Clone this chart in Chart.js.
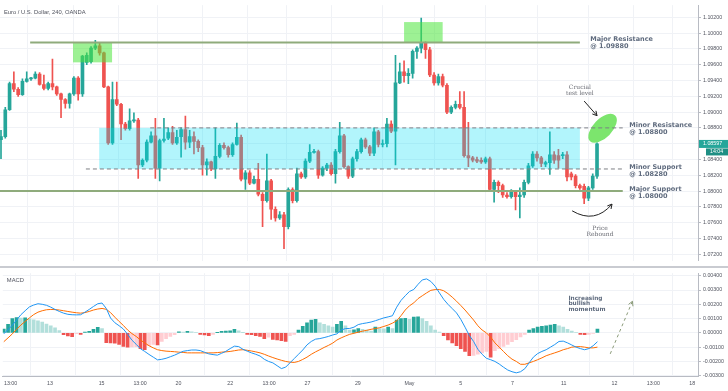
<!DOCTYPE html>
<html>
<head>
<meta charset="utf-8">
<title>EUR/USD 240</title>
<script src="https://cdn.jsdelivr.net/npm/chart.js@4.4.0/dist/chart.umd.min.js"></script>
<style>
  html, body { margin: 0; padding: 0; background: #fff; }
  #wrap { position: relative; width: 728px; height: 391px; overflow: hidden; }
  #priceChart { position: absolute; left: 0; top: 0; }
  #macdChart { position: absolute; left: 0; top: 268px; }
  #sep { position: absolute; left: 0; top: 266px; width: 728px; height: 2px; background: #c9cbd1; }
</style>
</head>
<body>
<div id="wrap">
  <canvas id="priceChart" width="728" height="266"></canvas>
  <div id="sep"></div>
  <canvas id="macdChart" width="728" height="123"></canvas>
</div>
<script>
// -----------------------------
// Data (4h candles)
// -----------------------------
const opens = [
  1.0865, 1.0869, 1.0903, 1.0936, 1.0929, 1.0922, 1.0939, 1.0942, 1.0943, 1.0948,
  1.0935, 1.0930, 1.0936, 1.0932, 1.0923, 1.0916, 1.0911, 1.0923, 1.0943, 1.0923,
  1.0963, 1.0964, 1.0981, 1.0984, 1.0975, 1.0932, 1.0861, 1.0916, 1.0910, 1.0885,
  1.0879, 1.0889, 1.0890, 1.0833, 1.0839, 1.0862, 1.0870, 1.0829, 1.0864, 1.0867,
  1.0874, 1.0861, 1.0869, 1.0878, 1.0862, 1.0869, 1.0863, 1.0855, 1.0833, 1.0837,
  1.0828, 1.0844, 1.0858, 1.0855, 1.0846, 1.0859, 1.0868, 1.0815, 1.0823, 1.0810,
  1.0815, 1.0796, 1.0788, 1.0813, 1.0777, 1.0766, 1.0770, 1.0755, 1.0802, 1.0788,
  1.0822, 1.0818, 1.0838, 1.0849, 1.0850, 1.0820, 1.0829, 1.0833, 1.0822, 1.0850,
  1.0870, 1.0831, 1.0819, 1.0841, 1.0850, 1.0865, 1.0856, 1.0848, 1.0875, 1.0859,
  1.0860, 1.0885, 1.0876, 1.0937, 1.0951, 1.0946, 1.0949, 1.0977, 1.0981, 1.0987,
  1.0979, 1.0947, 1.0937, 1.0945, 1.0934, 1.0900, 1.0906, 1.0910, 1.0906, 1.0845,
  1.0842, 1.0840, 1.0839, 1.0837, 1.0841, 1.0802, 1.0811, 1.0807, 1.0795, 1.0793,
  1.0799, 1.0793, 1.0795, 1.0811, 1.0832, 1.0847, 1.0842, 1.0834, 1.0836, 1.0846,
  1.0845, 1.0845, 1.0846, 1.0822, 1.0819, 1.0807, 1.0806, 1.0791, 1.0804, 1.0819
]
const highs = [
  1.0877, 1.0906, 1.0938, 1.0951, 1.0931, 1.0942, 1.0951, 1.0944, 1.0951, 1.0950,
  1.0947, 1.0938, 1.0967, 1.0933, 1.0924, 1.0917, 1.0924, 1.0945, 1.0945, 1.0972,
  1.0975, 1.0983, 1.0991, 1.0987, 1.0976, 1.0933, 1.0938, 1.0938, 1.0911, 1.0887,
  1.0904, 1.0899, 1.0892, 1.0841, 1.0865, 1.0875, 1.0892, 1.0866, 1.0892, 1.0880,
  1.0882, 1.0877, 1.0880, 1.0895, 1.0877, 1.0875, 1.0865, 1.0858, 1.0841, 1.0838,
  1.0880, 1.0860, 1.0861, 1.0857, 1.0861, 1.0886, 1.0871, 1.0826, 1.0826, 1.0819,
  1.0835, 1.0798, 1.0847, 1.0815, 1.0780, 1.0774, 1.0773, 1.0804, 1.0804, 1.0829,
  1.0824, 1.0841, 1.0859, 1.0853, 1.0852, 1.0831, 1.0835, 1.0836, 1.0853, 1.0887,
  1.0872, 1.0832, 1.0843, 1.0853, 1.0867, 1.0867, 1.0858, 1.0880, 1.0877, 1.0865,
  1.0892, 1.0889, 1.0972, 1.0962, 1.0965, 1.0955, 1.0979, 1.0983, 1.1019, 1.0989,
  1.0982, 1.0950, 1.0948, 1.0948, 1.0936, 1.0908, 1.0914, 1.0926, 1.0926, 1.0887,
  1.0844, 1.0843, 1.0842, 1.0843, 1.0843, 1.0814, 1.0813, 1.0809, 1.0798, 1.0802,
  1.0800, 1.0804, 1.0814, 1.0835, 1.0850, 1.0850, 1.0844, 1.0838, 1.0875, 1.0850,
  1.0853, 1.0849, 1.0850, 1.0824, 1.0821, 1.0809, 1.0809, 1.0806, 1.0822, 1.0861
]
const lows = [
  1.0841, 1.0867, 1.0902, 1.0926, 1.0920, 1.0921, 1.0938, 1.0940, 1.0942, 1.0934,
  1.0928, 1.0928, 1.0928, 1.0921, 1.0893, 1.0905, 1.0905, 1.0921, 1.0915, 1.0920,
  1.0960, 1.0962, 1.0979, 1.0972, 1.0931, 1.0859, 1.0859, 1.0908, 1.0865, 1.0877,
  1.0877, 1.0887, 1.0816, 1.0831, 1.0837, 1.0861, 1.0816, 1.0813, 1.0862, 1.0865,
  1.0859, 1.0859, 1.0843, 1.0853, 1.0855, 1.0847, 1.0850, 1.0820, 1.0820, 1.0826,
  1.0816, 1.0842, 1.0853, 1.0843, 1.0844, 1.0858, 1.0813, 1.0802, 1.0808, 1.0809,
  1.0794, 1.0755, 1.0786, 1.0764, 1.0762, 1.0764, 1.0727, 1.0752, 1.0785, 1.0786,
  1.0816, 1.0816, 1.0836, 1.0848, 1.0816, 1.0819, 1.0826, 1.0820, 1.0810, 1.0848,
  1.0829, 1.0816, 1.0817, 1.0838, 1.0848, 1.0854, 1.0845, 1.0845, 1.0856, 1.0856,
  1.0856, 1.0874, 1.0833, 1.0936, 1.0938, 1.0936, 1.0943, 1.0968, 1.0975, 1.0968,
  1.0945, 1.0934, 1.0934, 1.0932, 1.0898, 1.0898, 1.0904, 1.0904, 1.0843, 1.0831,
  1.0837, 1.0836, 1.0835, 1.0835, 1.0800, 1.0786, 1.0798, 1.0792, 1.0791, 1.0791,
  1.0776, 1.0766, 1.0792, 1.0809, 1.0830, 1.0838, 1.0831, 1.0831, 1.0821, 1.0835,
  1.0829, 1.0841, 1.0813, 1.0814, 1.0804, 1.0802, 1.0784, 1.0788, 1.0802, 1.0816
]
const closes = [
  1.0869, 1.0903, 1.0936, 1.0929, 1.0922, 1.0939, 1.0942, 1.0943, 1.0948, 1.0935,
  1.0930, 1.0936, 1.0932, 1.0923, 1.0916, 1.0911, 1.0923, 1.0943, 1.0923, 1.0971,
  1.0972, 1.0981, 1.0984, 1.0975, 1.0932, 1.0861, 1.0916, 1.0910, 1.0885, 1.0879,
  1.0889, 1.0890, 1.0833, 1.0839, 1.0862, 1.0870, 1.0829, 1.0864, 1.0866, 1.0874,
  1.0861, 1.0868, 1.0878, 1.0862, 1.0869, 1.0863, 1.0855, 1.0833, 1.0837, 1.0828,
  1.0844, 1.0858, 1.0855, 1.0846, 1.0859, 1.0868, 1.0815, 1.0823, 1.0810, 1.0815,
  1.0796, 1.0788, 1.0813, 1.0777, 1.0766, 1.0770, 1.0755, 1.0802, 1.0788, 1.0822,
  1.0818, 1.0838, 1.0849, 1.0850, 1.0820, 1.0829, 1.0833, 1.0822, 1.0850, 1.0870,
  1.0831, 1.0819, 1.0841, 1.0850, 1.0865, 1.0856, 1.0848, 1.0875, 1.0859, 1.0860,
  1.0885, 1.0876, 1.0937, 1.0951, 1.0946, 1.0949, 1.0977, 1.0981, 1.0987, 1.0979,
  1.0947, 1.0937, 1.0945, 1.0934, 1.0900, 1.0906, 1.0910, 1.0906, 1.0845, 1.0842,
  1.0839, 1.0838, 1.0837, 1.0841, 1.0802, 1.0811, 1.0807, 1.0795, 1.0793, 1.0799,
  1.0793, 1.0795, 1.0811, 1.0832, 1.0847, 1.0842, 1.0835, 1.0836, 1.0846, 1.0839,
  1.0839, 1.0846, 1.0818, 1.0818, 1.0807, 1.0804, 1.0791, 1.0804, 1.0819, 1.08597
]

const macdHist = [
  0.00027, 0.0006, 0.001, 0.00107, 0.00104, 0.00106, 0.00098, 0.00092, 0.00085, 0.00075,
  0.00062, 0.0005, 0.00036, 0.00016, -0.00013, -0.00022, -0.00027, -0.00005, -0.0001, 0.00005,
  0.0001, 0.00025, 0.00038, 0.0003, -0.00069, -0.0007, -0.00072, -0.0008, -0.00095, -0.001,
  -0.00098, -0.00097, -0.0011, -0.00118, -0.0009, -0.0008, -0.00085, -0.0006, -0.0004, -0.00025,
  -0.00012, 0.00007, 0.00005, 0.0001, 0.00008, 0.00004, -0.0001, -0.00015, -0.0002, -0.0001,
  0.00002, 0.0001, 0.00012, 0.00015, 0.00025, 0.00015, 0.00002, -0.0001, -0.00012, -0.0002,
  -0.00025, -0.0004, -0.0003, -0.00045, -0.0005, -0.00055, -0.0006, -0.0002, -0.0001, 0.0002,
  0.00045, 0.0007, 0.0009, 0.00095, 0.0007, 0.0006, 0.0005, 0.0004, 0.0006, 0.0008,
  0.0005, 0.0002, 0.00022, 0.0003, 0.00025, 0.0002, 0.00012, 0.0004, 0.0003, 0.00028,
  0.0004, 0.0003, 0.0009, 0.001, 0.00102, 0.00095, 0.0011, 0.00112, 0.001, 0.0008,
  0.0005, 0.0002, 0.00005, -0.0002, -0.0005, -0.0007, -0.0009, -0.0011, -0.0013, -0.0016,
  -0.00158, -0.0015, -0.0014, -0.0013, -0.0017, -0.00124, -0.0011, -0.00095, -0.0008, -0.00062,
  -0.00047, -0.00029, -0.00011, 0.0002, 0.0003, 0.0004, 0.00045, 0.0005, 0.00055, 0.0006,
  0.0005, 0.0004, 0.00025, 0.00012, 0.00003, -0.0001, -0.00012, -0.0001, -0.00004, 0.00027
]
const macdLine = [
  -0.00007, 0.00023, 0.00053, 0.0009, 0.00127, 0.00155, 0.00182, 0.00195, 0.00204, 0.002,
  0.00193, 0.0018, 0.00164, 0.0015, 0.00138, 0.0013, 0.00127, 0.00126, 0.00127, 0.00145,
  0.00164, 0.00185, 0.00204, 0.00209, 0.00171, 0.00104, 0.00071, 0.0005, 0.00027, -0.0001,
  -0.00051, -0.0008, -0.00111, -0.0013, -0.00151, -0.0017, -0.00189, -0.00185, -0.00178, -0.00167,
  -0.00156, -0.00142, -0.00129, -0.00124, -0.0012, -0.0012, -0.00124, -0.00136, -0.00147, -0.00152,
  -0.00156, -0.00143, -0.00129, -0.0011, -0.00093, -0.00096, -0.00115, -0.00128, -0.0014, -0.0015,
  -0.00162, -0.00185, -0.002, -0.0021, -0.0023, -0.0025, -0.0024, -0.0021, -0.0018, -0.0015,
  -0.0012, -0.00084, -0.0006, -0.00044, -0.0004, -0.00033, -0.00025, -0.00015, -0.00007, 0.0002,
  0.0003, 0.00031, 0.0004, 0.00058, 0.00065, 0.0007, 0.00076, 0.00085, 0.00095, 0.00105,
  0.00112, 0.0012, 0.0018, 0.00227, 0.0026, 0.0029, 0.00304, 0.0034, 0.00371, 0.00378,
  0.0036, 0.00327, 0.0028, 0.00235, 0.002, 0.0017, 0.0014, 0.00095, 0.0004, -0.00018,
  -0.0006, -0.00115, -0.0015, -0.00178, -0.00188, -0.002, -0.00218, -0.0024, -0.0026, -0.00272,
  -0.0028, -0.00272, -0.00251, -0.0021, -0.0017, -0.00145, -0.0013, -0.00118, -0.001, -0.00082,
  -0.0006, -0.00058, -0.0007, -0.00085, -0.001, -0.0011, -0.00118, -0.0011, -0.0009, -0.00062
]
const signalLine = [
  -0.00062, -0.00035, -0.00007, 0.00025, 0.00055, 0.0008, 0.00105, 0.00128, 0.00145, 0.00155,
  0.00162, 0.00164, 0.00163, 0.0016, 0.00155, 0.0015, 0.00145, 0.00141, 0.00138, 0.00142,
  0.0015, 0.0016, 0.00167, 0.00171, 0.00165, 0.00142, 0.0011, 0.0008, 0.00052, 0.0002,
  -0.00005, -0.00025, -0.0005, -0.0007, -0.0009, -0.00105, -0.00118, -0.00124, -0.00128, -0.0013,
  -0.00132, -0.00135, -0.00137, -0.0014, -0.0014, -0.0014, -0.0014, -0.0014, -0.0014, -0.0014,
  -0.00138, -0.00135, -0.00133, -0.0013, -0.00125, -0.0012, -0.00118, -0.00122, -0.00127, -0.00133,
  -0.0014, -0.0015, -0.00162, -0.00173, -0.00183, -0.00192, -0.002, -0.00205, -0.00207, -0.002,
  -0.00186, -0.0017, -0.0015, -0.00133, -0.00118, -0.00102, -0.00088, -0.00072, -0.0005, -0.00035,
  -0.00022, -0.0001, -0.00003, 0.00005, 0.00012, 0.00018, 0.00025, 0.0003, 0.00036, 0.00045,
  0.00055, 0.00068, 0.00085, 0.0012, 0.0016, 0.0019, 0.0021, 0.0024, 0.0026, 0.0028,
  0.00298, 0.00303, 0.00304, 0.00295, 0.00275, 0.0025, 0.00222, 0.00192, 0.0016, 0.00125,
  0.0009, 0.0005, 0.0002, 0.0, -0.0003, -0.0007, -0.001, -0.0013, -0.0016, -0.00184,
  -0.002, -0.0022, -0.0022, -0.0021, -0.002, -0.00188, -0.00175, -0.0016, -0.0015, -0.0014,
  -0.0013, -0.00118, -0.0011, -0.001, -0.00097, -0.00096, -0.001, -0.00105, -0.00105, -0.001
]

const priceTicks = [1.102, 1.1, 1.098, 1.096, 1.094, 1.092, 1.09, 1.088, 1.086, 1.084, 1.082, 1.08, 1.078, 1.076, 1.074, 1.072]
const macdTicks = [0.004, 0.003, 0.002, 0.001, 0, -0.001, -0.002, -0.003]
const dayTickPos = [1.6, 10.8, 22.9, 31.9, 40.9, 53, 62.1, 71.1, 82.9, 95, 107, 119.1, 131.1, 143, 152.1, 161.2]
const dayTickLabels = ["13:00", "13", "15", "13:00", "20", "22", "13:00", "27", "29", "May", "5", "7", "11", "12", "13:00", "18"]

// key levels
const majorRes = 1.0988
const minorRes = 1.0880
const minorSup = 1.0828
const majorSup = 1.0800

// -----------------------------
// Look
// -----------------------------
const UP = "#26a69a"
const DOWN = "#ef5350"
const GRID = "#f0f2f6"
const AXIS = "#b8bbc3"
const TEXT = "#50535e"
const NOTE = "#5f6b7e"
const X_MIN = -0.233
const X_MAX = 162.55

Chart.defaults.font.family = "'Liberation Sans', Arial, sans-serif"
Chart.defaults.color = TEXT

const candleColors = closes.map((c, i) => c >= opens[i] ? UP : DOWN)

const histColors = macdHist.map((v, i) => {
  const prev = i > 0 ? macdHist[i - 1] : 0
  if (v >= 0) return v >= prev ? UP : "#b2dfdb"
  return v < prev ? DOWN : "#ffcdd2"
})

function arrowHead(ctx, x0, y0, x1, y1, size) {
  const a = Math.atan2(y1 - y0, x1 - x0)
  ctx.beginPath()
  ctx.moveTo(x1 - size * Math.cos(a - 0.5), y1 - size * Math.sin(a - 0.5))
  ctx.lineTo(x1, y1)
  ctx.lineTo(x1 - size * Math.cos(a + 0.5), y1 - size * Math.sin(a + 0.5))
  ctx.stroke()
}

function sharedX(showLabels) {
  return {
    type: "linear",
    min: X_MIN,
    max: X_MAX,
    offset: false,
    grid: { color: GRID, drawTicks: false },
    border: { display: showLabels, color: AXIS },
    ticks: {
      display: showLabels,
      padding: 4,
      maxRotation: 0,
      autoSkip: false,
      font: { size: 5.3 },
      callback: (v, i) => dayTickLabels[i]
    },
    afterBuildTicks: s => { s.ticks = dayTickPos.map(v => ({ value: v })) },
    afterFit: s => { s.height = showLabels ? 15 : 0 }
  }
}

function rightY(min, max, ticks) {
  return {
    position: "right",
    min: min,
    max: max,
    grid: { color: GRID, tickLength: 3, tickColor: AXIS },
    border: { color: AXIS },
    ticks: { padding: 2, font: { size: 5.3 }, callback: v => v.toFixed(5) },
    afterBuildTicks: s => { s.ticks = ticks.map(v => ({ value: v })) },
    afterFit: s => { s.width = 30 }
  }
}

// -----------------------------
// Price annotations
// -----------------------------
const priceOverlay = {
  id: "priceOverlay",
  afterDatasetsDraw(chart) {
    const { ctx, scales: { x, y } } = chart
    const px = v => x.getPixelForValue(v)
    const py = v => y.getPixelForValue(v)
    ctx.save()

    // range between minor levels
    ctx.fillStyle = "rgba(0, 222, 245, 0.3)"
    ctx.fillRect(px(22.9), py(minorRes), px(135) - px(22.9), py(minorSup) - py(minorRes))

    // tests of major resistance
    ctx.fillStyle = "rgba(76, 230, 60, 0.55)"
    ctx.fillRect(px(16.8), py(majorRes), px(25.9) - px(16.8), py(1.0963) - py(majorRes))
    ctx.fillRect(px(94), py(1.1014), px(103) - px(94), py(majorRes) - py(1.1014))

    // crucial test ellipse
    ctx.fillStyle = "rgba(80, 220, 60, 0.75)"
    ctx.beginPath()
    ctx.ellipse(px(140.3), py(1.08795), 18, 9.5, -0.8, 0, Math.PI * 2)
    ctx.fill()

    // major levels
    ctx.strokeStyle = "#8fab7c"
    ctx.lineWidth = 2
    ctx.beginPath()
    ctx.moveTo(px(6.8), py(majorRes))
    ctx.lineTo(px(135), py(majorRes))
    ctx.moveTo(px(-1), py(majorSup))
    ctx.lineTo(px(145), py(majorSup))
    ctx.stroke()

    // minor levels
    ctx.strokeStyle = "#7d7f85"
    ctx.lineWidth = 1
    ctx.setLineDash([4, 3])
    ctx.beginPath()
    ctx.moveTo(px(34.8), py(minorRes))
    ctx.lineTo(px(145), py(minorRes))
    ctx.moveTo(px(19.8), py(minorSup))
    ctx.lineTo(px(145), py(minorSup))
    ctx.stroke()
    ctx.setLineDash([])

    // level labels
    ctx.fillStyle = NOTE
    ctx.font = "bold 6.5px 'DejaVu Sans'"
    ctx.textBaseline = "middle"
    ctx.textAlign = "left"
    const label = (title, level, xi, yv) => {
      ctx.fillText(title, px(xi), py(yv))
      ctx.fillText("@ " + level.toFixed(5), px(xi), py(yv) + 7)
    }
    label("Major Resistance", majorRes, 137.4, 1.0992)
    label("Minor Resistance", minorRes, 146.5, 1.08833)
    label("Minor Support", minorSup, 146.5, 1.08301)
    label("Major Support", majorSup, 146.5, 1.08021)

    // notes
    ctx.fillStyle = "#6b6d75"
    ctx.font = "6px 'DejaVu Serif'"
    ctx.textAlign = "center"
    ctx.fillText("Crucial", px(135), py(1.0931))
    ctx.fillText("test level", px(135), py(1.0931) + 6)
    ctx.fillText("Price", px(139.7), py(1.07522))
    ctx.fillText("Rebound", px(139.7), py(1.07522) + 5.5)

    ctx.strokeStyle = "#222"
    ctx.lineWidth = 1
    ctx.beginPath()
    ctx.moveTo(px(136), py(1.0914))
    ctx.lineTo(px(139), py(1.08955))
    ctx.stroke()
    arrowHead(ctx, px(136), py(1.0914), px(139), py(1.08955), 5)

    ctx.beginPath()
    ctx.moveTo(px(133.2), py(1.0775))
    ctx.quadraticCurveTo(px(138.5), py(1.0758), px(142.5), py(1.07835))
    ctx.stroke()
    arrowHead(ctx, px(138.5), py(1.0758), px(142.5), py(1.07835), 5)

    ctx.restore()
  },
  afterDraw(chart) {
    const { ctx, chartArea, scales: { y } } = chart
    ctx.save()
    ctx.fillStyle = TEXT
    ctx.font = "5.8px 'Liberation Sans'"
    ctx.textBaseline = "middle"
    ctx.fillText("Euro / U.S. Dollar, 240, OANDA", chartArea.left + 4, chartArea.top + 7)

    // last price tag
    const last = closes[closes.length - 1]
    const yy = y.getPixelForValue(last)
    ctx.fillStyle = UP
    ctx.fillRect(chartArea.right + 1, yy - 4, 29, 8)
    ctx.fillStyle = "#1f8f84"
    ctx.fillRect(chartArea.right + 8, yy + 4.5, 22, 7)
    ctx.fillStyle = "#fff"
    ctx.font = "5.3px 'Liberation Sans'"
    ctx.fillText(last.toFixed(5), chartArea.right + 5, yy)
    ctx.fillText("14:04", chartArea.right + 12, yy + 8)
    ctx.restore()
  }
}

// -----------------------------
// MACD annotations
// -----------------------------
const macdOverlay = {
  id: "macdOverlay",
  afterDraw(chart) {
    const { ctx, chartArea, scales: { x, y } } = chart
    const px = v => x.getPixelForValue(v)
    const py = v => y.getPixelForValue(v)
    ctx.save()
    ctx.fillStyle = TEXT
    ctx.font = "5.8px 'Liberation Sans'"
    ctx.textBaseline = "middle"
    ctx.fillText("MACD", chartArea.left + 4, chartArea.top + 7.5)

    ctx.fillStyle = NOTE
    ctx.font = "bold 5.8px 'DejaVu Sans'"
    ctx.fillText("Increasing", px(132.2), py(0.00243))
    ctx.fillText("bullish", px(132.2), py(0.00243) + 5.7)
    ctx.fillText("momentum", px(132.2), py(0.00243) + 11.4)

    ctx.strokeStyle = "#8a9a78"
    ctx.lineWidth = 1
    ctx.setLineDash([3, 3])
    ctx.beginPath()
    ctx.moveTo(px(142), py(-0.00147))
    ctx.lineTo(px(147.2), py(0.00221))
    ctx.stroke()
    ctx.setLineDash([])
    arrowHead(ctx, px(142), py(-0.00147), px(147.2), py(0.00221), 5)
    ctx.restore()
  }
}

// -----------------------------
// Charts
// -----------------------------
function renderPrice() {
  new Chart(document.getElementById("priceChart"), {
    type: "bar",
    data: {
      datasets: [
        {
          label: "body",
          data: opens.map((o, i) => ({ x: i, y: [o, closes[i]] })),
          backgroundColor: candleColors,
          barThickness: 3,
          minBarLength: 1,
          grouped: false,
          order: 0
        },
        {
          label: "wick",
          data: lows.map((l, i) => ({ x: i, y: [l, highs[i]] })),
          backgroundColor: candleColors,
          barThickness: 1,
          grouped: false,
          order: 1
        }
      ]
    },
    options: {
      responsive: false,
      animation: false,
      layout: { padding: 0 },
      plugins: { legend: { display: false }, tooltip: { enabled: false } },
      scales: {
        x: sharedX(false),
        y: rightY(1.07117, 1.10354, priceTicks)
      }
    },
    plugins: [priceOverlay]
  })
}

function renderMacd() {
  new Chart(document.getElementById("macdChart"), {
    type: "bar",
    data: {
      datasets: [
        {
          type: "line",
          label: "MACD",
          data: macdLine.map((v, i) => ({ x: i, y: v })),
          borderColor: "#2196f3",
          borderWidth: 1,
          pointRadius: 0,
          order: 0
        },
        {
          type: "line",
          label: "Signal",
          data: signalLine.map((v, i) => ({ x: i, y: v })),
          borderColor: "#ff6d00",
          borderWidth: 1,
          pointRadius: 0,
          order: 1
        },
        {
          label: "Histogram",
          data: macdHist.map((v, i) => ({ x: i, y: v })),
          backgroundColor: histColors,
          barThickness: 3,
          grouped: false,
          order: 2
        }
      ]
    },
    options: {
      responsive: false,
      animation: false,
      layout: { padding: 0 },
      plugins: { legend: { display: false }, tooltip: { enabled: false } },
      scales: {
        x: sharedX(true),
        y: rightY(-0.00302, 0.00418, macdTicks)
      }
    },
    plugins: [macdOverlay]
  })
}

renderPrice()
renderMacd()
</script>
</body>
</html>
